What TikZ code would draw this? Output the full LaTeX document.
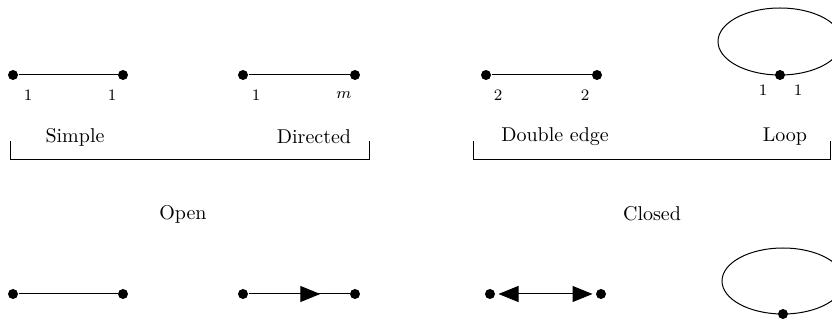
\documentclass[tikz,border=0pt]{standalone}
\usetikzlibrary{arrows.meta,calc}
\tikzset{tri/.tip={Triangle[length=10pt,width=8pt]}}
\begin{document}
\begin{tikzpicture}[x=0.5pt,y=-0.5pt,
  line width=0.5pt,
  vtx/.style={circle,fill=black,inner sep=0pt,minimum size=5pt},
  num/.style={font=\footnotesize,inner sep=0pt},
  captxt/.style={font=\normalsize,inner sep=0pt}]
\useasboundingbox (0,0) rectangle (832,320);

% ---- top row: labelled graphs ----
\node[vtx] (s1) at (13,75) {};
\node[vtx] (s2) at (123,75) {};
\draw (s1) -- (s2);
\node[num] at (28,95) {1};
\node[num] at (112,95) {1};

\node[vtx] (d1) at (243,75) {};
\node[vtx] (d2) at (355,75) {};
\draw (d1) -- (d2);
\node[num] at (256,95) {1};
\node[num] at (344,95) {$m$};

\node[vtx] (e1) at (486,75) {};
\node[vtx] (e2) at (597,75) {};
\draw (e1) -- (e2);
\node[num] at (498,95) {2};
\node[num] at (585,95) {2};

\node[vtx] (l1) at (780,75) {};
\draw (l1.center) arc[start angle=90,end angle=450,x radius=62,y radius=33.5];
\node[num] at (763,90) {1};
\node[num] at (798,90) {1};

% ---- captions and brackets ----
\node[captxt] at (75,137) {Simple};
\node[captxt] at (314,137) {Directed};
\node[captxt] at (555,137) {Double edge};
\node[captxt] at (785,137) {Loop};

\coordinate (ba) at (10,141);
\coordinate (bb) at (369,141);
\draw (ba) -- (ba |- 0,160) -- (bb |- 0,160) -- (bb);
\coordinate (bc) at (473,141);
\coordinate (bd) at (830,141);
\draw (bc) -- (bc |- 0,160) -- (bd |- 0,160) -- (bd);

\node[captxt] at (183,214) {Open};
\node[captxt] at (652,214) {Closed};

% ---- bottom row: oriented graphs ----
\node[vtx] (t1) at (13,294) {};
\node[vtx] (t2) at (123,294) {};
\draw (t1) -- (t2);

\node[vtx] (u1) at (243,294) {};
\node[vtx] (u2) at (355,294) {};
\draw (u1) -- (u2);
\draw[-{tri}] ($(u1)!0.27!(u2)$) -- ($(u1)!0.69!(u2)$);

\node[vtx] (w1) at (490,294) {};
\node[vtx] (w2) at (601,294) {};
\draw[{tri}-{tri},shorten <=1.5pt,shorten >=1.5pt] (w1) -- (w2);

\node[vtx] (p1) at (783,314) {};
\draw (p1.center) arc[start angle=90,end angle=450,x radius=61,y radius=33];
\end{tikzpicture}
\end{document}
